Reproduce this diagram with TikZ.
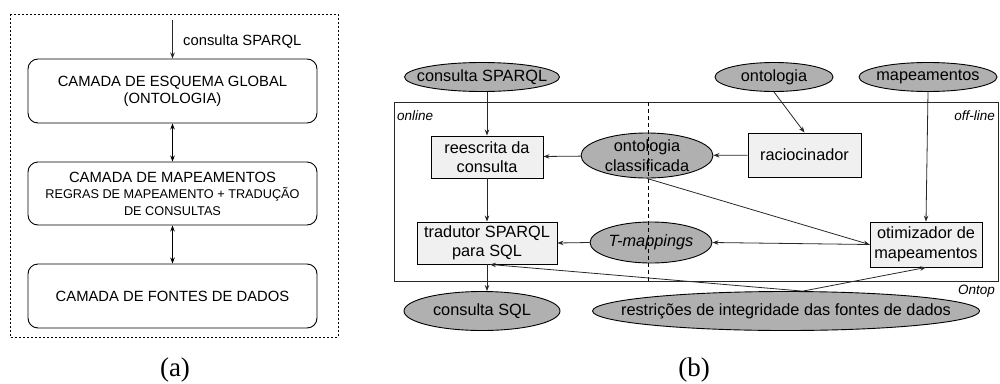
\documentclass[tikz,border=0pt]{standalone}
\usepackage{fontspec}
\setmainfont{Liberation Sans}
\newfontfamily\capfont{Liberation Serif}
\usetikzlibrary{arrows.meta,shapes.geometric,calc}

\definecolor{boxgray}{RGB}{240,240,240}
\definecolor{ellgray}{RGB}{176,176,176}
\definecolor{linegray}{RGB}{40,40,40}

\tikzset{
  layer/.style={draw, line width=0.9pt, rounded corners=10pt, minimum width=289pt,
    minimum height=64pt, inner sep=0pt, align=center,
    font=\fontsize{14.8}{17}\selectfont},
  proc/.style={draw, fill=boxgray, line width=0.9pt, inner sep=0pt, align=center,
    font=\fontsize{16.3}{19.5}\selectfont},
  % ellipse size is fixed by minimum width/height alone
  data/.style={ellipse, draw, fill=ellgray, line width=0.9pt, inner xsep=-80pt,
    inner ysep=-20pt, align=center, font=\fontsize{16.3}{19.5}\selectfont},
  arr/.style={-{Stealth[length=6pt,width=4.5pt]}, line width=0.8pt, draw=linegray},
  darr/.style={{Stealth[length=6pt,width=4.5pt]}-{Stealth[length=6pt,width=4.5pt]},
    line width=0.8pt},
  tag/.style={font=\itshape\fontsize{13.5}{16}\selectfont, inner sep=0pt},
  caption/.style={font=\capfont\fontsize{27}{30}\selectfont, inner sep=0pt},
}

\begin{document}
\begin{tikzpicture}[x=1pt, y=-1pt]
\useasboundingbox (0,0) rectangle (1000,383);

% ---------- (a) layered architecture ----------
\draw[line width=0.8pt, dash pattern=on 2.2pt off 1.8pt] (10,14) rectangle (338,337);

\node[layer] (l1) at (172.5,91) {CAMADA DE ESQUEMA GLOBAL\\(ONTOLOGIA)};
\node[layer, minimum height=63pt] (l2) at (172.5,193.5)
  {CAMADA DE MAPEAMENTOS\\[-1pt]
   {\fontsize{12.7}{15}\selectfont REGRAS DE MAPEAMENTO + TRADUÇÃO}\\
   {\fontsize{12.7}{15}\selectfont DE CONSULTAS}};
\node[layer] (l3) at (172.5,296) {CAMADA DE FONTES DE DADOS};

\coordinate (qin) at (172.5,20);
\draw[arr] (qin) -- (l1.north);
\node[anchor=west, inner sep=0pt, font=\fontsize{14.8}{17}\selectfont] (qlbl) at (183,42) {consulta SPARQL};
\draw[darr] (l1.south) -- (l2.north);
\draw[darr] (l2.south) -- (l3.north);

\node[caption] (capa) at (175,370) {(a)};

% ---------- (b) Ontop ----------
\draw[line width=1pt, draw=linegray] (394,102) rectangle (998,281);

\node[data, minimum width=155pt, minimum height=29pt] (cs)  at (482,77) {consulta SPARQL};
\node[data, minimum width=118pt, minimum height=29pt] (ont) at (774,77) {ontologia};
\node[data, minimum width=138pt, minimum height=29pt] (map) at (928,77) {mapeamentos};

\node[proc, minimum width=112pt, minimum height=42pt] (rw)  at (487,157) {reescrita da\\consulta};
\node[data, minimum width=132pt, minimum height=45pt] (oc)  at (647,155.5) {ontologia\\classificada};
\node[proc, minimum width=113pt, minimum height=44pt] (rac) at (804.5,155) {raciocinador};

\node[proc, minimum width=140pt, minimum height=42pt] (tr)  at (487,243) {tradutor SPARQL\\para SQL};
\node[data, minimum width=122pt, minimum height=41pt] (tm)  at (651,242.5) {\itshape T-mappings};
\node[proc, minimum width=112pt, minimum height=45pt] (opt) at (926,244.5) {otimizador de\\mapeamentos};

\node[data, minimum width=156pt, minimum height=39pt] (sql) at (482,311) {consulta SQL};
\node[data, minimum width=387pt, minimum height=39pt] (rs)  at (786,311)
  {restrições de integridade das fontes de dados};

% online / off-line divider
\draw[line width=0.8pt, dashed, dash pattern=on 4pt off 3pt] (648,102) -- (648,281);

\node[tag, anchor=west] (ton)  at (397,116) {online};
\node[tag, anchor=east] (toff) at (995,116) {off-line};
\node[tag, anchor=east] (ttop) at (995,291) {Ontop};

% connectors
\draw[arr] (rw.north |- cs.south) -- (rw.north);
\draw[arr] (rw.south) -- (tr.north);
\draw[arr] (tr.south) -- (tr.south |- sql.north);
\draw[arr] (oc) -- (rw);
\draw[arr] (rac) -- (oc);
\draw[arr] (ont.south) -- (rac.north);
\draw[arr] (map.south) -- (opt.north);
\draw[arr] (oc.south) -- (opt.west);
\draw[arr] (opt.west) -- (tm.east);
\draw[arr] (tm.west) -- (tr.east);
\coordinate (jn) at (rs.50);
\draw[arr] (jn) -- ([xshift=3pt]tr.south);
\draw[arr] (jn) -- (opt.south);

\node[caption] (capb) at (694,370) {(b)};
\end{tikzpicture}
\end{document}
